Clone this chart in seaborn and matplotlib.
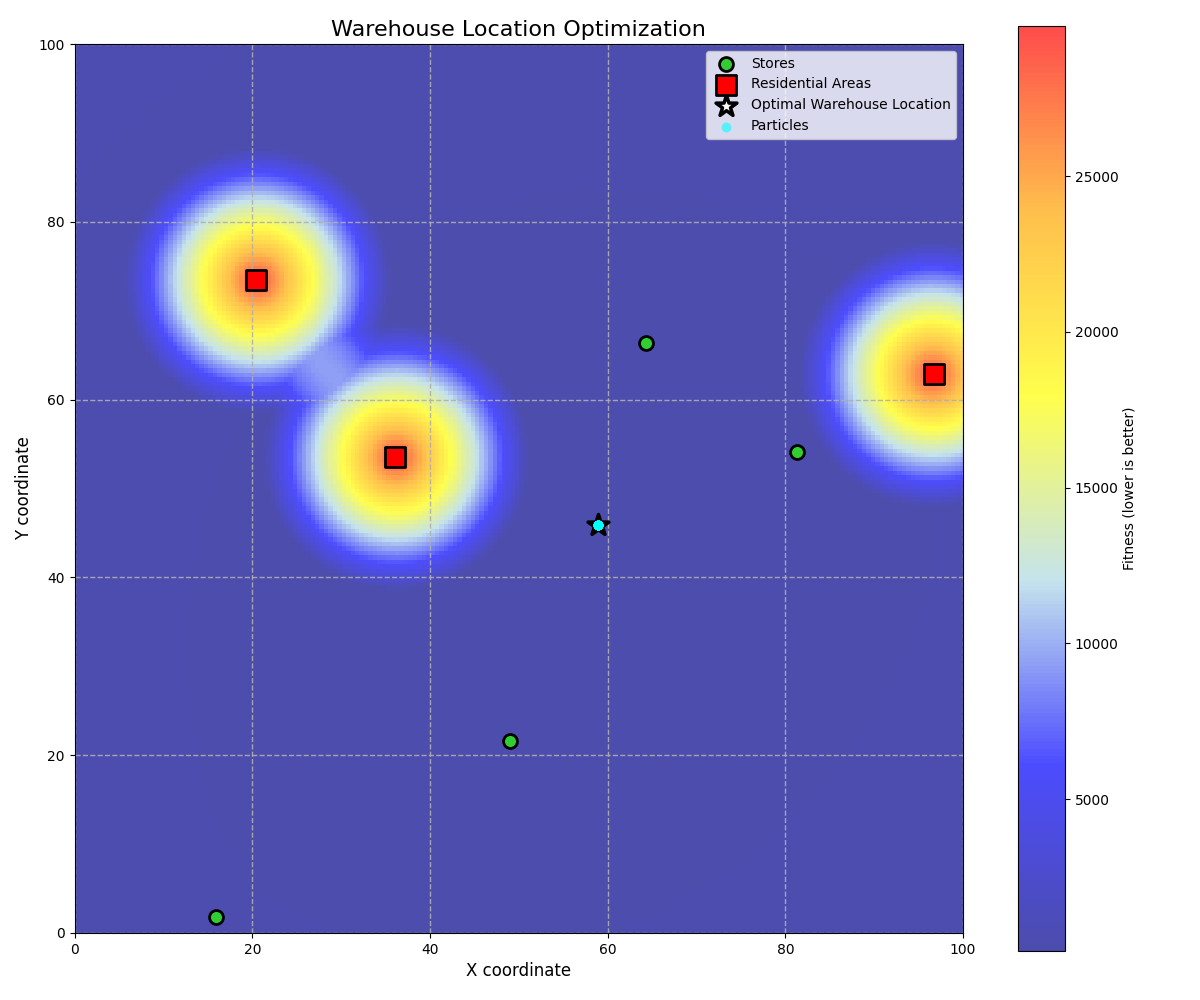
import numpy as np
import matplotlib
matplotlib.use("Agg")
import matplotlib.pyplot as plt
from matplotlib.colors import LinearSegmentedColormap
import seaborn as sns

store_x = [15.9, 49.0, 64.3, 81.3]
store_y = [1.8, 21.6, 66.4, 54.1]
res_x = [20.4, 36.1, 96.7]
res_y = [73.5, 53.5, 62.9]
best_x = [58.9]
best_y = [45.9]
particle_x = [58.9] * 30
particle_y = [45.9] * 30
radius_read = [0, 3, 6, 9, 12, 15]
penalty_read = [29500, 24000, 18000, 12000, 6000, 0]
cmap_colors = ["darkblue", "blue", "lightblue", "yellow", "orange", "red"]
cbar_ticks = [5000, 10000, 15000, 20000, 25000]

sns.set_style("white")
plt.rcParams["font.family"] = ["DejaVu Sans"]
plt.rcParams.update({"text.color": "black", "axes.labelcolor": "black",
                     "xtick.color": "black", "ytick.color": "black"})
fig = plt.figure(figsize=(12, 10), dpi=100)
ax = fig.add_axes([74.6 / 1200, 1 - 933 / 1000, 888.4 / 1200, 889 / 1000])
cax = fig.add_axes([1018 / 1200, 1 - 951 / 1000, 47 / 1200, 925 / 1000])

centres = np.linspace(0, 100, 200)
gx, gy = np.meshgrid(centres, centres)
field = np.full_like(gx, 0.0)
for sx, sy in zip(store_x, store_y):
    field += np.hypot(gx - sx, gy - sy)
for rx, ry in zip(res_x, res_y):
    d = np.hypot(gx - rx, gy - ry)
    field += np.interp(d, radius_read, penalty_read) + 0.2 * d

cmap = LinearSegmentedColormap.from_list("fitness", cmap_colors)
im = ax.imshow(field, origin="lower", extent=[0, 100, 0, 100], cmap=cmap,
               alpha=0.7, aspect="auto", vmin=120, vmax=29820)

sns.scatterplot(x=store_x, y=store_y, color="limegreen", s=100, marker="o",
                edgecolor="black", linewidth=2, label="Stores", ax=ax, zorder=3)
sns.scatterplot(x=res_x, y=res_y, color="red", s=200, marker="s",
                edgecolor="black", linewidth=2, label="Residential Areas", ax=ax, zorder=3)
sns.scatterplot(x=best_x, y=best_y, color="white", s=250, marker="*",
                edgecolor="black", linewidth=2.5, label="Optimal Warehouse Location", ax=ax, zorder=4)
sns.scatterplot(x=particle_x, y=particle_y, color="cyan", s=50, marker="o",
                alpha=0.6, linewidth=0, label="Particles", ax=ax, zorder=5)

ax.set_xlim(0, 100)
ax.set_ylim(0, 100)
ax.set_xticks(range(0, 101, 20))
ax.set_yticks(range(0, 101, 20))
ax.tick_params(left=True, bottom=True, labelsize=10, length=3.5, width=0.8)
ax.grid(True, color="#b0b0b0", linestyle="--", linewidth=1.0, alpha=0.9)
for s in ax.spines.values():
    s.set_visible(True); s.set_color("black"); s.set_linewidth(0.8)
ax.set_title("Warehouse Location Optimization", fontsize=16)
ax.set_xlabel("X coordinate", fontsize=12)
ax.set_ylabel("Y coordinate", fontsize=12)
ax.legend(loc="upper right", frameon=True, framealpha=0.8, fontsize=10)

cb = fig.colorbar(im, cax=cax)
cb.set_ticks(cbar_ticks)
cb.ax.tick_params(labelsize=10, length=3.5, width=0.8, right=True)
cb.set_label("Fitness (lower is better)", fontsize=10, labelpad=3)
cb.outline.set_visible(True); cb.outline.set_edgecolor("black"); cb.outline.set_linewidth(0.8)

fig.savefig("out.png", dpi=100)
